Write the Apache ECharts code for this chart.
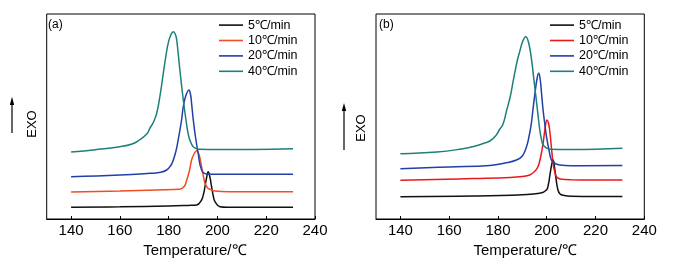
<!DOCTYPE html>
<html><head><meta charset="utf-8">
<script src="https://cdn.jsdelivr.net/npm/echarts@6/dist/echarts.min.js"></script>
<style>html,body{margin:0;padding:0;background:#fff}#c{width:676px;height:268px}</style>
</head><body><div id="c"></div>
<script>
const rateNames = ['5℃/min','10℃/min','20℃/min','40℃/min'];
const xTicks = [140,160,180,200,220,240];
// Panel (a)
const a5 = [[140,11.7],[160,12.2],[180,13],[188,13.6],[191.5,14],[193.5,19],[194.3,25],[194.9,32.3],[195.6,42],[196.2,47.3],[196.9,42],[197.6,32.3],[198.3,23],[199,17.3],[201,12.3],[204,11.8],[231,11.8]];
const a10 = [[140,27],[160,28],[175,29],[184.6,29.7],[186.5,33],[187.4,39],[188.5,48],[189.4,59],[190.5,65.5],[191.5,68.3],[192.5,64],[193.5,52.3],[194.3,42],[194.9,35.7],[196,31],[196.9,29.7],[199,28],[205,27.3],[231,27.2]];
const a20 = [[140,42.3],[160,44],[172.3,45.7],[176,46.5],[179.2,49],[181,54],[181.9,59],[183,68],[183.9,79],[185.3,99],[186,112.3],[187,123],[188.3,129],[189,124],[189.4,115.7],[190.1,99],[191,82],[192.1,65.7],[193.5,49],[195.6,45],[200,44.7],[231,44.8]];
const a40 = [[140,67],[150,69.3],[160,72.3],[165,75],[168,79],[171,85],[172.3,90.7],[173.8,97],[175.1,105.7],[176.5,124],[177.8,145.7],[179,165],[179.8,175.7],[180.8,183.5],[181.9,187.3],[182.7,185],[183.3,179],[184.6,149],[186,119],[187.4,94],[188.3,82],[189.2,76],[190.1,72.3],[191.5,70.3],[192.8,69.7],[200,69.4],[231,70.3]];
// Panel (b)
const b5 = [[140,22.3],[170,23],[190,24.3],[197.1,25.7],[199.9,29],[200.7,35],[201.2,42.3],[202,54],[202.6,59],[203.2,52],[203.7,42.3],[204.6,29],[205.5,25],[206.7,23.7],[210,22.8],[231,22.5]];
const b10 = [[140,38.7],[170,40.5],[185,41.5],[190,42.5],[193,44],[195,47.5],[196.4,52.3],[197.5,62],[198.5,75.7],[199.4,92],[200.1,99],[200.7,96],[201.2,89],[201.9,72],[202.6,55.7],[203.3,47],[204,42.3],[205.5,40],[210,39.2],[231,39]];
const b20 = [[140,50.3],[160,52],[176.7,53.5],[183,56],[187.6,59],[190,63],[191.7,72.3],[192.7,82],[193.7,95.7],[194.4,110.7],[195.3,128],[196,140],[196.7,145.7],[197.3,140],[197.9,125],[198.5,109],[199.2,95],[199.9,82.3],[201,68],[201.9,59],[203,56],[205.3,54],[210,53.3],[231,53.5]];
const b40 = [[140,65.3],[155,67],[165,70],[170,72.5],[174,75.5],[176.7,78],[179,83],[180.8,90],[182.1,95],[183.5,108],[185,122],[186.2,137.3],[187.8,157],[188.9,167.3],[190.2,178],[191.4,182.3],[192.5,177],[193.7,160.7],[194.8,138],[195.8,117.3],[196.6,100],[197.1,90],[197.8,80],[198.5,74],[200,71],[201.2,69.7],[210,69.5],[231,70.7]];

const colorsA = ['#111111','#f04e23','#2140a8','#1e7f7b'];
const colorsB = ['#111111','#e8191c','#2140a8','#1e7f7b'];
const FONT = 'Liberation Sans, Arial, sans-serif';
const namesB = rateNames.map(n => n + ' ');

function xAx(gi, shift){
  return {type:'value', gridIndex:gi, min:130, max:240, interval:10,
    axisLine:{show:true, lineStyle:{color:'#000',width:1}},
    axisTick:{show:true, inside:true, length:3, lineStyle:{color:'#000'}, customValues:xTicks},
    splitLine:{show:false},
    axisLabel:{color:'#000', fontSize:15, fontFamily:FONT, margin:4, customValues:xTicks},
    name:'Temperature/℃', nameLocation:'middle', nameGap:22,
    nameTextStyle:{color:'#000', fontSize:15, fontFamily:FONT, padding:[0,0,0,shift]}};
}
function yAx(gi){ return {type:'value', gridIndex:gi, min:0, max:205, show:false}; }
function ser(name, data, color, gi){
  return {type:'line', name, data, xAxisIndex:gi, yAxisIndex:gi, symbol:'none', smooth:0.45,
    lineStyle:{color, width:1.5}, itemStyle:{color}, animation:false};
}
function legend(left, names){
  return {left, top:18, orient:'vertical', itemWidth:24, itemHeight:1.6, itemGap:1.2, padding:0,
    icon:'rect', data:names, selectedMode:false,
    textStyle:{color:'#000', fontSize:12.5, fontFamily:FONT, lineHeight:14.2, padding:[0,0,0,0]}};
}
const chart = echarts.init(document.getElementById('c'), null, {renderer:'canvas'});
chart.setOption({
  backgroundColor:'#fff',
  animation:false,
  grid:[
    {left:46.7, top:14, width:268.3, height:205, show:true, borderColor:'#000', borderWidth:1},
    {left:376, top:14, width:268.3, height:205, show:true, borderColor:'#000', borderWidth:1}
  ],
  xAxis:[xAx(0, 28), xAx(1, 30)],
  yAxis:[yAx(0), yAx(1)],
  legend:[legend(219, rateNames), legend(550, namesB)],
  series:[
    ser(rateNames[0], a5, colorsA[0], 0), ser(rateNames[1], a10, colorsA[1], 0),
    ser(rateNames[2], a20, colorsA[2], 0), ser(rateNames[3], a40, colorsA[3], 0),
    ser(namesB[0], b5, colorsB[0], 1), ser(namesB[1], b10, colorsB[1], 1),
    ser(namesB[2], b20, colorsB[2], 1), ser(namesB[3], b40, colorsB[3], 1)
  ],
  graphic:[
    {type:'line', shape:{x1:12,y1:133,x2:12,y2:104}, style:{stroke:'#000', lineWidth:1.2}},
    {type:'polygon', shape:{points:[[12,96.7],[9.8,105],[14.2,105]]}, style:{fill:'#000'}},
    {type:'text', x:32, y:124, rotation:Math.PI/2, style:{text:'EXO', fill:'#000', font:'13px '+FONT, align:'center', verticalAlign:'middle'}},
    {type:'text', x:48, y:19, style:{text:'(a)', fill:'#000', font:'12px '+FONT}},
    {type:'line', shape:{x1:344,y1:150,x2:344,y2:110}, style:{stroke:'#000', lineWidth:1.2}},
    {type:'polygon', shape:{points:[[344,103],[341.8,111],[346.2,111]]}, style:{fill:'#000'}},
    {type:'text', x:361.7, y:128, rotation:Math.PI/2, style:{text:'EXO', fill:'#000', font:'13px '+FONT, align:'center', verticalAlign:'middle'}},
    {type:'text', x:379, y:19, style:{text:'(b)', fill:'#000', font:'12px '+FONT}}
  ]
});
</script></body></html>
